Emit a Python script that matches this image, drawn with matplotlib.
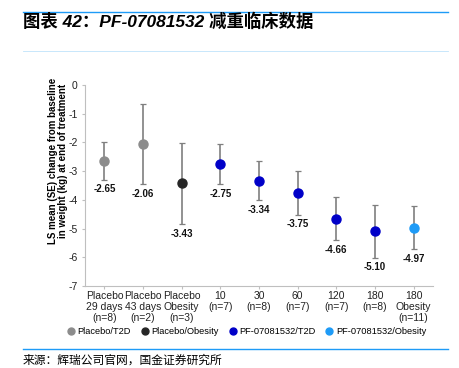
import matplotlib.pyplot as plt
from matplotlib.lines import Line2D

plt.rcParams['font.family'] = ['Liberation Sans', 'Noto Sans CJK SC', 'DejaVu Sans']
plt.rcParams['axes.unicode_minus'] = False

categories = ['Placebo\n29 days\n(n=8)', 'Placebo\n43 days\n(n=2)', 'Placebo\nObesity\n(n=3)',
              '10\n(n=7)', '30\n(n=8)', '60\n(n=7)', '120\n(n=7)', '180\n(n=8)',
              '180\nObesity\n(n=11)']
means = [-2.65, -2.06, -3.43, -2.75, -3.34, -3.75, -4.66, -5.10, -4.97]
errors = [0.65, 1.40, 1.42, 0.70, 0.68, 0.77, 0.75, 0.91, 0.75]
groups = [0, 0, 1, 2, 2, 2, 2, 2, 3]
group_names = ['Placebo/T2D', 'Placebo/Obesity', 'PF-07081532/T2D', 'PF-07081532/Obesity']
group_colors = ['#8c8c8c', '#262626', '#0000c8', '#1e9bf7']

fig = plt.figure(figsize=(4.6, 3.68), dpi=100)
ax = fig.add_axes([0.185, 0.223, 0.756, 0.546])

for i, (m, e, g) in enumerate(zip(means, errors, groups)):
    ax.errorbar(i, m, yerr=e, fmt='none', ecolor='#7f7f7f', elinewidth=1.2,
                capsize=2.2, capthick=0.9, zorder=2)
    ax.plot(i, m, 'o', color=group_colors[g], markersize=6.5, zorder=3)
    ax.text(i, m - e - 0.33, '%.2f' % m, ha='center', va='center',
            fontsize=7, fontweight='bold', color='#111111')

ax.set_xlim(-0.5, len(categories) - 0.5)
ax.set_ylim(-7, 0)
ax.set_yticks(range(-7, 1))
ax.set_xticks(range(len(categories)))
ax.set_xticklabels(categories, fontsize=7.5, linespacing=1.15, color='#222222')
ax.tick_params(axis='y', labelsize=7.5, length=2, color='#bfbfbf', labelcolor='#222222')
ax.tick_params(axis='x', length=2, color='#bfbfbf', pad=1.5)
for s in ['top', 'right']:
    ax.spines[s].set_visible(False)
for s in ['left', 'bottom']:
    ax.spines[s].set_color('#bfbfbf')
ax.set_ylabel('LS mean (SE) change from baseline\nin weight (kg) at end of treatment',
              fontsize=7, fontweight='bold', linespacing=1.0)
ax.yaxis.set_label_coords(-0.05, 0.62)

handles = [Line2D([], [], marker='o', linestyle='none', color=c, markersize=5)
           for c in group_colors]
fig.legend(handles, group_names, loc='center', bbox_to_anchor=(0.535, 0.098), ncol=4,
           frameon=False, fontsize=6.7, handletextpad=0.2, columnspacing=1.0,
           handlelength=1.0)

# header and footer
fig.add_artist(Line2D([23 / 460, 448 / 460], [1 - 12 / 368] * 2, color='#1e9bf7', lw=1.0))
fig.add_artist(Line2D([23 / 460, 448 / 460], [1 - 51 / 368] * 2, color='#bfe3fb', lw=0.6))
fig.add_artist(Line2D([23 / 460, 448 / 460], [1 - 349 / 368] * 2, color='#1e9bf7', lw=1.0))
fig.text(23 / 460, 1 - 21 / 368, '图表 42：PF-07081532 减重临床数据', fontsize=12.5,
         fontweight='bold', style='italic', va='center', ha='left',
         family=['Liberation Sans', 'Noto Sans CJK SC'])
fig.text(23 / 460, 1 - 360 / 368, '来源：辉瑞公司官网，国金证券研究所', fontsize=8.5,
         va='center', ha='left', family=['Noto Sans CJK SC', 'DejaVu Sans'])

fig.savefig('out.png', dpi=100)
